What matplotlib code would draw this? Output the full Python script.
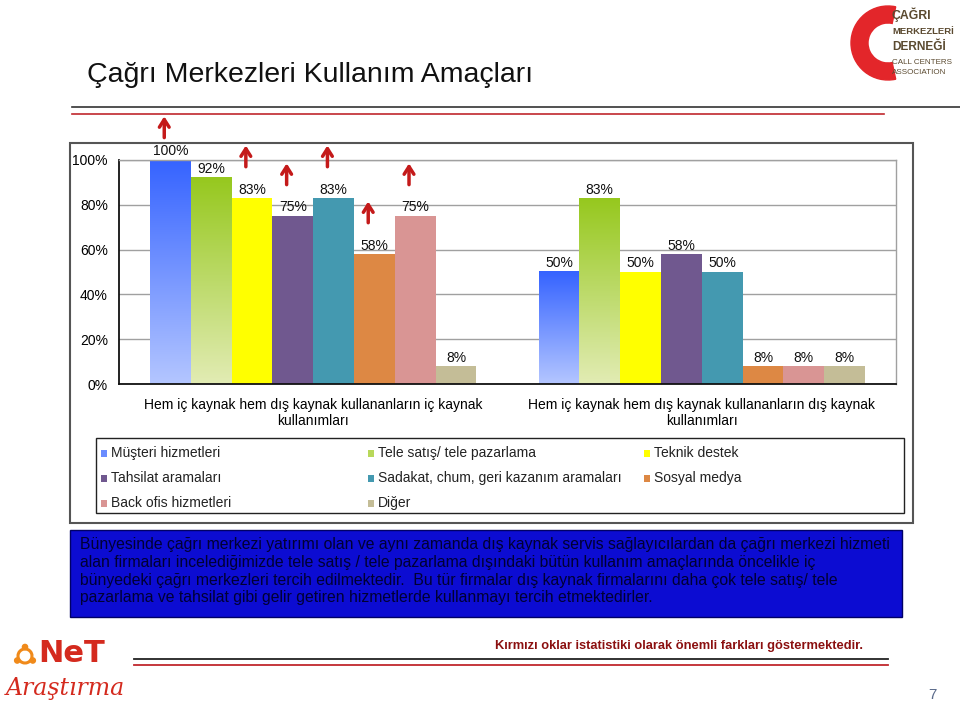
import matplotlib
matplotlib.use('Agg')
import matplotlib.pyplot as plt
import numpy as np
from matplotlib import font_manager as fm
from matplotlib.patches import Rectangle, Wedge, Circle, Arc
from matplotlib.colors import LinearSegmentedColormap

names = {f.name for f in fm.fontManager.ttflist}
SANS = 'Liberation Sans' if 'Liberation Sans' in names else 'DejaVu Sans'
NARROW = 'Liberation Sans Narrow' if 'Liberation Sans Narrow' in names else SANS
plt.rcParams['font.family'] = [SANS, 'DejaVu Sans']

# ---------------- data ----------------
title = "Çağrı Merkezleri Kullanım Amaçları"
categories = ["Hem iç kaynak hem dış kaynak kullananların iç kaynak\nkullanımları",
              "Hem iç kaynak hem dış kaynak kullananların dış kaynak\nkullanımları"]
series = ["Müşteri hizmetleri", "Tele satış/ tele pazarlama", "Teknik destek",
          "Tahsilat aramaları", "Sadakat, chum, geri kazanım aramaları", "Sosyal medya",
          "Back ofis hizmetleri", "Diğer"]
values_ic = [100, 92, 83, 75, 83, 58, 75, 8]
values_dis = [50, 83, 50, 58, 50, 8, 8, 8]
significant_ic = [0, 2, 3, 4, 5, 6]   # red arrows (first group)
yticks = [0, 20, 40, 60, 80, 100]

colors = ['#6a8cff', '#b8d85a', '#ffff00', '#70588f', '#4499b0', '#dd8844', '#d99594', '#c4bd97']
gradients = {0: ('#b4c6ff', '#3563ff'), 1: ('#e2ecb4', '#96c81e')}

note = ("Bünyesinde çağrı merkezi yatırımı olan ve aynı zamanda dış kaynak servis sağlayıcılardan da çağrı merkezi hizmeti\n"
        "alan firmaları incelediğimizde tele satış / tele pazarlama dışındaki bütün kullanım amaçlarında öncelikle iç\n"
        "bünyedeki çağrı merkezleri tercih edilmektedir.  Bu tür firmalar dış kaynak firmalarını daha çok tele satış/ tele\n"
        "pazarlama ve tahsilat gibi gelir getiren hizmetlerde kullanmayı tercih etmektedirler.")
footnote = "Kırmızı oklar istatistiki olarak önemli farkları göstermektedir."

# ---------------- figure ----------------
W, H = 960, 708
fig = plt.figure(figsize=(W / 100, H / 100), dpi=100)
fig.patch.set_facecolor('white')


def rect(x0, y0, x1, y1):
    return [x0 / W, 1 - y1 / H, (x1 - x0) / W, (y1 - y0) / H]


ov = fig.add_axes([0, 0, 1, 1])
ov.set_xlim(0, W)
ov.set_ylim(H, 0)
ov.axis('off')

# title and header lines
ov.text(87, 75, title, fontsize=20.5, va='center', ha='left', color='#111111')
ov.plot([72, 960], [107, 107], color='#333333', lw=1.2)
ov.plot([72, 884], [114, 114], color='#c0282d', lw=1.2)

# chart frame and legend frame
ov.add_patch(Rectangle((70, 143), 843, 380, fill=False, edgecolor='#555555', lw=1.5))
ov.add_patch(Rectangle((96, 438), 808, 75, fill=False, edgecolor='#222222', lw=1.0))

# ---------------- chart ----------------
ax = fig.add_axes(rect(119, 160, 896, 384))
x = np.arange(len(categories))
w = 0.105
grad = np.linspace(0, 1, 256).reshape(-1, 1)
for i, (name, col) in enumerate(zip(series, colors)):
    vals = [values_ic[i], values_dis[i]]
    pos = x + (i - 3.5) * w
    bars = ax.bar(pos, vals, width=w, color=col, edgecolor='none', zorder=2)
    if i in gradients:
        cmap = LinearSegmentedColormap.from_list('g%d' % i, list(gradients[i]))
        for b in bars:
            b.set_facecolor('none')
            ax.imshow(grad, cmap=cmap, origin='lower', aspect='auto', zorder=2,
                      extent=[b.get_x(), b.get_x() + b.get_width(), 0, b.get_height()])
    for b, v in zip(bars, vals):
        ax.text(b.get_x() + b.get_width() / 2, v + 3.8, f"{v}%", ha='center', va='center',
                fontsize=10, color='#111111')

for i in significant_ic:
    v = values_ic[i]
    base = min(v + 14, 110)
    xp = x[0] + (i - 3.5) * w - 0.016
    ax.annotate('', xy=(xp, base + 9.5), xytext=(xp, base),
                arrowprops=dict(arrowstyle='->,head_length=0.55,head_width=0.35',
                                color='#c41a1a', lw=2.5, shrinkA=0, shrinkB=0),
                annotation_clip=False)

ax.set_xlim(-0.5, len(categories) - 0.5)
ax.set_ylim(0, 100)
ax.set_yticks(yticks)
ax.set_yticklabels([f"{t}%" for t in yticks], fontsize=10)
ax.set_xticks(x)
ax.set_xticklabels(categories, fontsize=10, linespacing=1.15)
ax.tick_params(axis='y', length=0, pad=8)
ax.tick_params(axis='x', length=0, pad=10)
ax.grid(axis='y', color='#a0a0a0', lw=1.0, zorder=0)
ax.set_axisbelow(True)
for s in ['left', 'bottom']:
    ax.spines[s].set_color('#111111')
    ax.spines[s].set_linewidth(1.3)
for s in ['right', 'top']:
    ax.spines[s].set_color('#a0a0a0')
    ax.spines[s].set_linewidth(1.0)

# ---------------- legend ----------------
col_marker_x = [101, 368, 644]
row_y = [453, 478, 503]
for k, (name, col) in enumerate(zip(series, colors)):
    r, c = divmod(k, 3)
    mx, my = col_marker_x[c], row_y[r]
    ov.add_patch(Rectangle((mx, my - 3.5), 6, 7, facecolor=col, edgecolor='none'))
    ov.text(mx + 10, my, name, fontsize=10, va='center', ha='left', color='#222222')

# ---------------- note box ----------------
ov.add_patch(Rectangle((70, 530), 832, 87, facecolor='#0c0cd2', edgecolor='#000066', lw=1.0))
ov.text(80, 537, note, fontsize=11.3, va='top', ha='left', color='#000033', linespacing=1.23)

# ---------------- footer ----------------
ov.text(863, 646, footnote, fontsize=9.3, fontweight='bold', family=NARROW,
        ha='right', va='center', color='#8b1010')
ov.plot([134, 888], [659, 659], color='#222222', lw=1.3)
ov.plot([134, 888], [665, 665], color='#c0282d', lw=1.3)
ov.text(932, 695, "7", fontsize=11, ha='center', va='center', color='#5a6a8a')

# NeT Araştırma logo
for ang in [90, 210, 330]:
    a = np.deg2rad(ang)
    ov.add_patch(Circle((25 + 9 * np.cos(a), 656 - 9 * np.sin(a)), 2.6, color='#f08a1a'))
ov.add_patch(Arc((25, 656), 14, 14, theta1=0, theta2=360, color='#f08a1a', lw=2.2))
ov.text(38, 654, "NeT", fontsize=22, fontweight='bold', family='DejaVu Sans',
        color='#d42a1e', va='center', ha='left')
ov.text(6, 689, "Araştırma", fontsize=17, style='italic', family='DejaVu Serif',
        color='#d42a1e', va='center', ha='left')

# Çağrı Merkezleri Derneği logo
ov.add_patch(Wedge((888, 43), 37, 78, 282, width=17, color='#e3262a'))
logo_kw = dict(fontweight='bold', family=NARROW, color='#5b4a30', va='center', ha='left')
ov.text(892, 15, "ÇAĞRI", fontsize=8.8, **logo_kw)
ov.text(892, 31, "MERKEZLERİ", fontsize=6.8, **logo_kw)
ov.text(892, 47, "DERNEĞİ", fontsize=8.6, **logo_kw)
ov.text(892, 62, "CALL CENTERS", fontsize=5.8, family=NARROW, color='#5b4a30', va='center')
ov.text(892, 73, "ASSOCIATION", fontsize=5.8, family=NARROW, color='#5b4a30', va='center')

fig.savefig('out.png', dpi=100)
